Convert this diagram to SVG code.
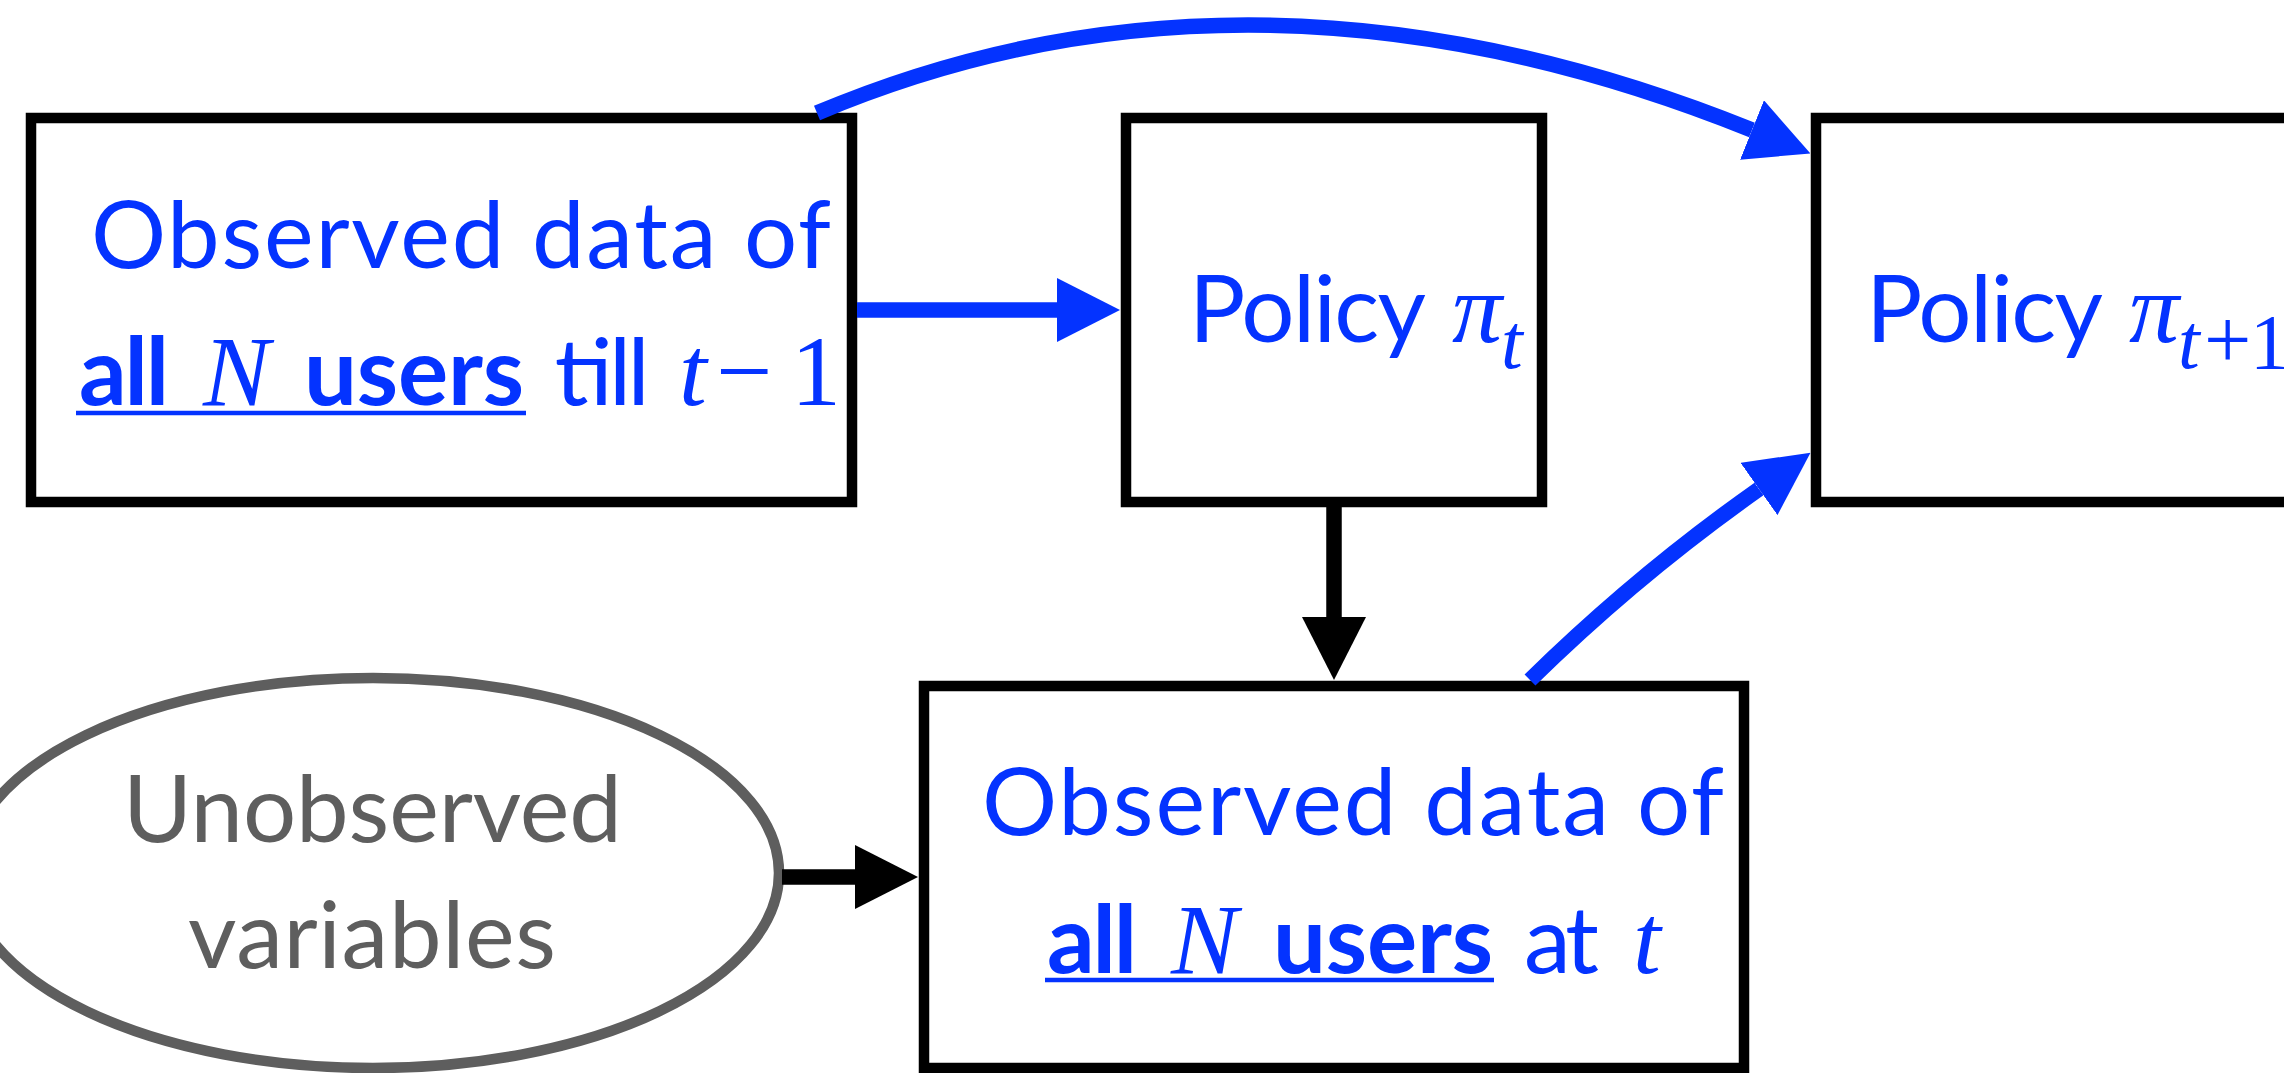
<svg xmlns="http://www.w3.org/2000/svg" width="2284" height="1073" viewBox="0 0 2284 1073">
  <style>
    .box { fill: #ffffff; stroke: #000000; stroke-width: 10.5; }
    .oval { fill: #ffffff; stroke: #5e5e5e; stroke-width: 10.5; }
    .txt { font-family: Lato, "Liberation Sans", sans-serif; font-size: 94px; fill: #0433ff; }
    .bold { font-weight: 700; }
    .grey { fill: #5e5e5e; }
    .math { font-family: "Liberation Serif", "Times New Roman", serif; font-style: italic; font-size: 100px; fill: #0433ff; }
    .mathup { font-family: "Liberation Serif", "Times New Roman", serif; font-size: 100px; fill: #0433ff; }
    .up { font-style: normal; }
    .sub { font-size: 78px; }
    .uline { stroke: #0433ff; stroke-width: 4.5; }
    .blue { fill: none; stroke: #0433ff; stroke-width: 15.5; stroke-linecap: butt; }
    .black { fill: none; stroke: #000000; stroke-width: 15.5; stroke-linecap: butt; }
  </style>
  <defs>
    <marker id="headBlue" markerUnits="userSpaceOnUse" viewBox="0 -32 63 64" refX="0" refY="0" markerWidth="63" markerHeight="64" orient="auto">
      <path d="M0,-32 L63,0 L0,32 z" fill="#0433ff"/>
    </marker>
    <marker id="headBlack" markerUnits="userSpaceOnUse" viewBox="0 -32 63 64" refX="0" refY="0" markerWidth="63" markerHeight="64" orient="auto">
      <path d="M0,-32 L63,0 L0,32 z" fill="#000000"/>
    </marker>
  </defs>

  <rect width="2284" height="1073" fill="#ffffff"/>

  <!-- history of observations up to t-1 -->
  <g id="history">
    <rect class="box" x="31" y="118" width="821" height="384"/>
    <text class="txt" x="91" y="268" textLength="740" lengthAdjust="spacing">Observed data of</text>
    <text class="txt bold" x="79" y="405" textLength="90" lengthAdjust="spacing">all</text>
    <text class="math" x="203" y="405">N</text>
    <text class="txt bold" x="304" y="405" textLength="220" lengthAdjust="spacing">users</text>
    <line class="uline" x1="76" y1="413" x2="526" y2="413"/>
    <text class="txt" x="551" y="405" textLength="95" lengthAdjust="spacing">till</text>
    <text class="math" x="679" y="405">t<tspan class="up" x="716">−</tspan><tspan class="up" x="791">1</tspan></text>
  </g>

  <!-- current policy -->
  <g id="policy-t">
    <rect class="box" x="1126" y="118" width="416" height="384"/>
    <text class="txt" x="1189" y="342" textLength="237" lengthAdjust="spacing">Policy</text>
    <text class="math" x="1452" y="342">π<tspan class="sub" x="1501" y="368">t</tspan></text>
  </g>

  <!-- next policy -->
  <g id="policy-t1">
    <rect class="box" x="1816" y="118" width="520" height="384"/>
    <text class="txt" x="1866" y="342" textLength="237" lengthAdjust="spacing">Policy</text>
    <text class="math" x="2129" y="342">π<tspan class="sub" x="2178" y="368">t</tspan><tspan class="up" font-size="84" x="2204">+</tspan><tspan class="up sub" x="2250">1</tspan></text>
  </g>

  <!-- hidden factors -->
  <g id="unobserved">
    <ellipse class="oval" cx="373" cy="873" rx="406" ry="195"/>
    <text class="txt grey" x="123" y="842" textLength="499" lengthAdjust="spacing">Unobserved</text>
    <text class="txt grey" x="188" y="968" textLength="368" lengthAdjust="spacing">variables</text>
  </g>

  <!-- observations at time t -->
  <g id="current">
    <rect class="box" x="924" y="686" width="820" height="382"/>
    <text class="txt" x="982" y="835" textLength="742" lengthAdjust="spacing">Observed data of</text>
    <text class="txt bold" x="1047" y="973" textLength="90" lengthAdjust="spacing">all</text>
    <text class="math" x="1171" y="973">N</text>
    <text class="txt bold" x="1273" y="973" textLength="220" lengthAdjust="spacing">users</text>
    <line class="uline" x1="1045" y1="980" x2="1494" y2="980"/>
    <text class="txt" x="1524" y="973" textLength="75" lengthAdjust="spacing">at</text>
    <text class="math" x="1633" y="973">t</text>
  </g>

  <g id="connectors">
    <path class="blue" d="M857,310 H1057" marker-end="url(#headBlue)"/>
    <path class="black" d="M1334,507 V617" marker-end="url(#headBlack)"/>
    <path class="black" d="M782,877 H855" marker-end="url(#headBlack)"/>
    <path class="blue" d="M817,113 Q1253,-71 1752,130" marker-end="url(#headBlue)"/>
    <path class="blue" d="M1530,680 Q1637,575 1759,489" marker-end="url(#headBlue)"/>
  </g>
</svg>
